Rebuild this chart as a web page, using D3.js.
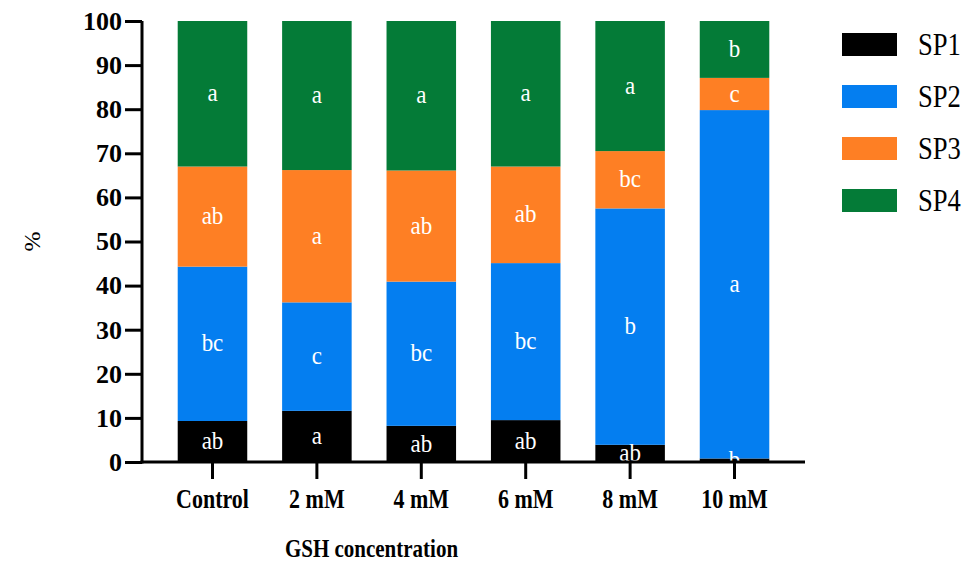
<!doctype html>
<html>
<head>
<script src="https://d3js.org/d3.v7.min.js"></script>
<style>
  body { margin: 0; background: #fff; }
  text { font-family: "Liberation Serif", "Times New Roman", serif; }
</style>
</head>
<body>
<svg id="chart" width="971" height="564"></svg>
<script>
// data
var categories = ["Control", "2 mM", "4 mM", "6 mM", "8 mM", "10 mM"];
var seriesNames = ["SP1", "SP2", "SP3", "SP4"];
var sp1 = [9.3, 11.6, 8.2, 9.5, 3.9, 0.8];
var sp2 = [35.0, 24.6, 32.7, 35.6, 53.6, 79.0];
var sp3 = [22.7, 30.0, 25.2, 21.9, 13.0, 7.3];
var sp4 = [33.0, 33.8, 33.9, 33.0, 29.5, 12.9];
var letters1 = ["ab", "a", "ab", "ab", "ab", "b"];
var letters2 = ["bc", "c", "bc", "bc", "b", "a"];
var letters3 = ["ab", "a", "ab", "ab", "bc", "c"];
var letters4 = ["a", "a", "a", "a", "a", "b"];
var yTicks = [0, 10, 20, 30, 40, 50, 60, 70, 80, 90, 100];
var colors = ["#000000", "#047ef0", "#fe7f24", "#047b37"];

var svg = d3.select("#chart");
var left = 142, right = 805, plotTop = 21, bottom = 462;

var rows = categories.map(function(c, i) {
  return { cat: c, SP1: sp1[i], SP2: sp2[i], SP3: sp3[i], SP4: sp4[i],
           lab: [letters1[i], letters2[i], letters3[i], letters4[i]] };
});

var x = d3.scaleBand().domain(categories).range([left, right])
  .paddingInner(0.334).paddingOuter(0.342);
var y = d3.scaleLinear().domain([0, 100]).range([bottom, plotTop]);
var color = d3.scaleOrdinal().domain(seriesNames).range(colors);

var stacked = d3.stack().keys(seriesNames)(rows);

// bars
var layers = svg.append("g").selectAll("g")
  .data(stacked).enter().append("g")
  .attr("fill", function(d) { return color(d.key); });

layers.selectAll("rect")
  .data(function(d) { return d; })
  .enter().append("rect")
  .attr("x", function(d) { return x(d.data.cat); })
  .attr("y", function(d) { return y(d[1]); })
  .attr("width", x.bandwidth())
  .attr("height", function(d) { return y(d[0]) - y(d[1]); });

// letters inside the segments
stacked.forEach(function(layer, k) {
  svg.append("g").selectAll("text")
    .data(layer).enter().append("text")
    .attr("transform", function(d) {
      return "translate(" + (x(d.data.cat) + x.bandwidth() / 2) + "," + y((d[0] + d[1]) / 2) + ") scale(1,1.1)";
    })
    .attr("dy", "0.3em")
    .attr("text-anchor", "middle")
    .attr("fill", "#fff")
    .style("font-size", "23px")
    .text(function(d) { return d.data.lab[k]; });
});

// y axis
var yAxis = svg.append("g")
  .attr("transform", "translate(" + left + ",0)")
  .call(d3.axisLeft(y).tickValues(yTicks).tickSize(17).tickSizeOuter(0).tickPadding(3));
yAxis.select(".domain").attr("stroke-width", 3).attr("d", "M0," + (bottom + 1.5) + "V" + plotTop);
yAxis.selectAll(".tick line").attr("stroke-width", 3);
yAxis.selectAll("text").style("font-size", "26px").style("font-weight", "bold")
  .attr("fill", "#000").attr("font-family", null);

// x axis
var xAxis = svg.append("g")
  .attr("transform", "translate(0," + bottom + ")")
  .call(d3.axisBottom(x).tickSize(17).tickSizeOuter(0).tickPadding(6));
xAxis.select(".domain").attr("stroke-width", 3).attr("d", "M" + (left - 1.5) + ",0H" + right);
xAxis.selectAll(".tick line").attr("stroke-width", 3);
xAxis.selectAll("text").style("font-size", "22px").style("font-weight", "bold")
  .attr("fill", "#000").attr("font-family", null)
  .attr("transform", "scale(1,1.2)");

// axis titles
svg.append("text")
  .attr("transform", "translate(" + ((left + right) / 2 - 102) + ",557) scale(1,1.2)")
  .attr("text-anchor", "middle")
  .style("font-size", "21px").style("font-weight", "bold")
  .text("GSH concentration");

svg.append("text")
  .attr("transform", "translate(40," + y(50) + ") rotate(-90)")
  .attr("text-anchor", "middle")
  .style("font-size", "24px")
  .text("%");

// legend
var legend = svg.append("g").selectAll("g")
  .data(seriesNames).enter().append("g")
  .attr("transform", function(d, i) { return "translate(842," + (33 + i * 52) + ")"; });
legend.append("rect").attr("width", 55).attr("height", 23)
  .attr("fill", function(d) { return color(d); });
legend.append("text").attr("transform", "translate(76,22) scale(0.95,1.15)")
  .style("font-size", "28px").text(function(d) { return d; });
</script>
</body>
</html>
